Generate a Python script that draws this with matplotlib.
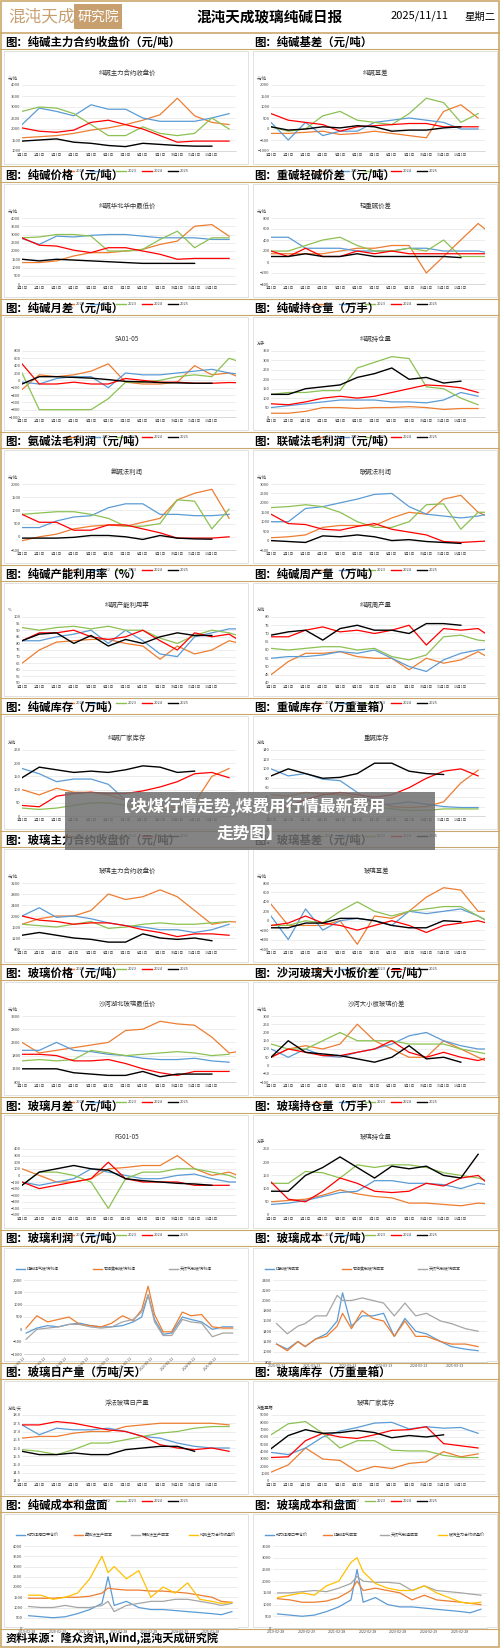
import matplotlib
matplotlib.use("Agg")
import matplotlib.pyplot as plt
from matplotlib.patches import Rectangle

plt.rcParams['font.family'] = ['Noto Sans CJK SC', 'DejaVu Sans']
W, H = 500, 1648
YEARS = ['2021', '2022', '2023', '2024', '2025']
YCOL = ['#ED7D31', '#5B9BD5', '#8CC152', '#FF0000', '#000000']
MONTHS = ['1月1日', '2月1日', '3月1日', '4月1日', '5月1日', '6月1日', '7月1日', '8月1日', '9月1日', '10月1日', '11月1日', '12月1日']

# ---- seasonal data (monthly readings, Jan..Dec) ----
sa_fut_2021 = [1600, 1650, 1700, 1800, 1950, 2050, 2200, 2400, 2650, 3400, 2600, 2300, 2200]
sa_fut_2022 = [2200, 2950, 2800, 2600, 3100, 2900, 2900, 2500, 2350, 2350, 2350, 2500, 2700]
sa_fut_2023 = [2800, 3000, 2950, 2700, 2200, 1700, 1700, 2100, 1800, 1700, 1800, 2500, 2000]
sa_fut_2024 = [2050, 1900, 1850, 1950, 2300, 2400, 2200, 2000, 1700, 1400, 1450, 1450, 1450]
sa_fut_2025 = [1450, 1500, 1550, 1400, 1350, 1250, 1200, 1350, 1300, 1250, 1220, 1220]

sa_basis_2021 = [-200, -200, -150, -100, -250, -200, -100, -200, -300, -400, 800, 1100, 500]
sa_basis_2022 = [300, -500, 300, -300, -100, -100, 300, 400, 500, 400, 300, 0, 0]
sa_basis_2023 = [100, -100, 0, 600, 800, 400, 300, 200, 700, 1400, 1200, 300, 700]
sa_basis_2024 = [700, 400, 300, 200, -100, 100, 150, 200, 250, 250, 100, 100, 100]
sa_basis_2025 = [100, -50, 0, 100, 50, 150, 100, -100, -50, -50, 50, 100]

sa_spot_2021 = [1300, 1300, 1400, 1700, 1900, 1900, 2000, 2100, 2400, 2600, 3500, 3600, 2900]
sa_spot_2022 = [2750, 2400, 2900, 2850, 2950, 3000, 3000, 2900, 2800, 2800, 2800, 2700, 2700]
sa_spot_2023 = [2800, 2850, 3000, 3000, 2900, 2000, 2000, 2100, 2700, 3200, 2200, 2800, 2800]
sa_spot_2024 = [2800, 2350, 2300, 2050, 1900, 2200, 2200, 2000, 1800, 1500, 1550, 1550, 1550]
sa_spot_2025 = [1500, 1400, 1500, 1450, 1400, 1350, 1300, 1250, 1250, 1250, 1250]

sa_lh_2021 = [150, 150, 150, 150, 200, 250, 250, 300, 300, -200, 100, 400, 700, 450]
sa_lh_2022 = [450, 450, 250, 250, 250, 200, 200, 200, 250, 250, 200, 200, 200, 150]
sa_lh_2023 = [200, 200, 300, 400, 450, 300, 200, 200, 250, 200, 400, 100, 100, 100]
sa_lh_2024 = [200, 100, 250, 100, 100, 200, 150, 200, 150, 150, 150, 150, 150, 150]
sa_lh_2025 = [100, 100, 150, 100, 100, 150, 100, 100, 100, 100, 100, 80]

sa_spr_2021 = [-250, 150, 100, 150, 250, 450, -50, -100, -100, -50, 400, 150, 200, 0]
sa_spr_2022 = [-50, -100, 50, 100, 100, -200, 200, 150, 150, 200, 250, 300, 200, 150]
sa_spr_2023 = [200, -800, -800, -800, -800, -500, -50, -50, 0, 100, 150, 100, 600, 450]
sa_spr_2024 = [450, -100, -100, -50, -100, -100, 50, 0, -50, -50, -80, -80, -60, -70]
sa_spr_2025 = [-100, 100, 100, 80, 60, 20, -30, -40, -60, -70, -80, -80]

sa_oi_2021 = [20, 20, 30, 50, 50, 45, 50, 50, 55, 50, 40, 45, 45]
sa_oi_2022 = [50, 60, 70, 80, 90, 90, 90, 80, 80, 75, 90, 130, 110]
sa_oi_2023 = [120, 130, 130, 140, 140, 260, 290, 320, 310, 160, 150, 100, 65]
sa_oi_2024 = [70, 65, 80, 100, 110, 100, 110, 130, 150, 170, 165, 155, 130]
sa_oi_2025 = [120, 120, 150, 160, 170, 210, 230, 260, 200, 210, 180, 190]

amm_pf_2021 = [-150, 0, 100, 300, 400, 450, 400, 550, 700, 1400, 1650, 1800, 700]
amm_pf_2022 = [350, 350, 600, 750, 800, 1100, 1250, 1250, 850, 850, 800, 800, 850]
amm_pf_2023 = [850, 900, 950, 950, 850, 700, 400, 400, 500, 1400, 1350, 300, 1050]
amm_pf_2024 = [850, 550, 550, 250, 250, 450, 450, 300, 150, -50, -50, -50, 0]
amm_pf_2025 = [-50, -50, -50, -20, 50, 50, 0, -100, 50, -50, -80, -90]

jnt_pf_2021 = [150, 200, 300, 700, 800, 800, 800, 1200, 1500, 1400, 2200, 2400, 1500, 1100]
jnt_pf_2022 = [1000, 1000, 1700, 1800, 2000, 2200, 2450, 2500, 1800, 1400, 1300, 1200, 1300, 1500]
jnt_pf_2023 = [1750, 1800, 1900, 1800, 1500, 1000, 700, 700, 1000, 1900, 1950, 600, 1500, 1500]
jnt_pf_2024 = [1400, 900, 850, 600, 550, 750, 900, 600, 450, 300, -50, -100, -50, 0]
jnt_pf_2025 = [0, -50, -100, 250, 200, 300, 200, 0, 50, -50, -100, -150]

sa_util_2021 = [65, 75, 81, 82, 83, 83, 80, 78, 68, 78, 72, 75, 82, 79]
sa_util_2022 = [82, 82, 85, 87, 90, 80, 90, 82, 72, 70, 85, 88, 91, 91]
sa_util_2023 = [92, 90, 92, 93, 91, 93, 90, 90, 84, 80, 86, 90, 88, 84]
sa_util_2024 = [82, 88, 88, 90, 85, 83, 85, 90, 82, 75, 88, 85, 87, 79]
sa_util_2025 = [82, 87, 88, 80, 86, 78, 83, 80, 85, 88, 86, 86]

sa_out_2021 = [45, 53, 58, 58, 59, 56, 55, 55, 48, 55, 52, 54, 59, 53]
sa_out_2022 = [55, 56, 56, 57, 59, 58, 60, 55, 50, 47, 54, 58, 60, 61]
sa_out_2023 = [61, 60, 61, 62, 62, 60, 61, 56, 54, 57, 68, 69, 66, 65]
sa_out_2024 = [68, 68, 72, 74, 71, 72, 70, 72, 75, 63, 73, 72, 73, 66]
sa_out_2025 = [69, 71, 72, 66, 73, 75, 72, 72, 70, 76, 76, 75]

sa_inv_2021 = [100, 80, 105, 90, 90, 80, 60, 45, 40, 30, 50, 150, 180]
sa_inv_2022 = [180, 160, 130, 140, 140, 120, 60, 40, 55, 45, 35, 30, 30]
sa_inv_2023 = [30, 25, 30, 40, 50, 50, 40, 25, 20, 25, 50, 30, 30]
sa_inv_2024 = [40, 35, 75, 85, 90, 85, 85, 95, 110, 130, 160, 165, 145]
sa_inv_2025 = [145, 185, 175, 165, 170, 165, 175, 190, 185, 165, 170]

hv_inv_2021 = [45, 42, 50, 47, 45, 40, 30, 20, 18, 20, 30, 70, 97]
hv_inv_2022 = [100, 85, 90, 78, 75, 50, 25, 25, 30, 25, 20, 18, 18]
hv_inv_2023 = [15, 15, 15, 20, 28, 28, 20, 15, 12, 12, 15, 15, 15]
hv_inv_2024 = [15, 20, 35, 45, 50, 45, 40, 45, 60, 80, 95, 100, 85]
hv_inv_2025 = [85, 100, 90, 80, 82, 90, 112, 112, 95, 90, 88]

fg_fut_2021 = [1700, 1900, 2000, 2000, 2200, 2800, 2600, 2700, 2950, 2700, 2200, 1700, 1800, 1750]
fg_fut_2022 = [2000, 2300, 1950, 2000, 1900, 1750, 1650, 1600, 1500, 1500, 1400, 1500, 1700]
fg_fut_2023 = [1700, 1650, 1600, 1700, 1800, 1550, 1600, 1700, 1750, 1700, 1700, 1750, 1800]
fg_fut_2024 = [2000, 1850, 1800, 1700, 1750, 1750, 1650, 1500, 1400, 1250, 1350, 1350, 1300]
fg_fut_2025 = [1300, 1400, 1300, 1200, 1150, 1050, 1050, 1350, 1200, 1150, 1200, 1100]

fg_basis_2021 = [350, -100, -100, -100, 0, -500, 100, 50, 200, 500, 700, 650, 200, 200]
fg_basis_2022 = [100, -400, 250, -200, 0, 50, 0, -100, 200, 150, 200, 250, 100, -100]
fg_basis_2023 = [-100, -100, 0, -50, 200, 400, 200, 100, 200, 250, 300, 300, 100, -100]
fg_basis_2024 = [-100, -50, 100, -50, -100, -200, -100, 0, -100, -250, -100, -50, 0, -100]
fg_basis_2025 = [-150, -150, -50, -50, 50, 50, 0, -100, -150, -150, 0, -20]

fg_spot_2021 = [2300, 1900, 2000, 2100, 2200, 2300, 2750, 2800, 3100, 3000, 2950, 2500, 1900, 2000]
fg_spot_2022 = [2000, 2000, 2300, 2000, 1950, 1850, 1800, 1700, 1650, 1650, 1700, 1600, 1550]
fg_spot_2023 = [1600, 1650, 1600, 1650, 2000, 1900, 1800, 1850, 1900, 1950, 1900, 1800, 1850]
fg_spot_2024 = [1850, 1850, 1800, 1600, 1600, 1650, 1500, 1300, 1150, 1050, 1200, 1200, 1200]
fg_spot_2025 = [1300, 1300, 1300, 1150, 1100, 1050, 1050, 1200, 1000, 1100, 1100, 1100]

fg_size_2021 = [50, 100, 120, 100, 130, 250, 150, 100, 50, 50, 150, 100, 50, 0]
fg_size_2022 = [100, 50, 100, 60, 50, 80, 100, 130, 180, 200, 150, 120, 100, 100]
fg_size_2023 = [130, 100, 100, 150, 200, 150, 150, 150, 130, 130, 130, 100, 80, 60]
fg_size_2024 = [50, 100, 80, 60, 60, 80, 100, 150, 80, 50, 80, 50, 30, 60]
fg_size_2025 = [50, 150, 80, 70, 60, 40, 20, 50, 120, 40, 50, 20]

fg_spr_2021 = [100, 0, -100, -100, -50, 100, 120, 150, 150, 300, 100, 0, 50, -50]
fg_spr_2022 = [-100, -150, -100, -50, 100, 50, 0, -50, -50, 0, 20, -50, -100, -100]
fg_spr_2023 = [-150, 50, 50, 0, -100, -500, -50, 50, 50, 100, 100, 50, 0, -100]
fg_spr_2024 = [-100, -200, -150, -100, -50, 200, -50, -100, -100, -100, -150, -150, -150]
fg_spr_2025 = [-150, 50, 100, 150, 100, 80, -50, -80, -100, -120, -130, -150]

fg_oi_2021 = [50, 55, 60, 75, 95, 80, 70, 65, 45, 45, 40, 35, 45, 40]
fg_oi_2022 = [40, 45, 55, 70, 85, 90, 130, 130, 120, 120, 115, 100, 120, 110]
fg_oi_2023 = [120, 120, 165, 160, 140, 190, 180, 190, 190, 180, 160, 150, 140, 120]
fg_oi_2024 = [125, 60, 50, 90, 140, 120, 90, 85, 90, 120, 110, 140, 150, 95]
fg_oi_2025 = [90, 90, 150, 180, 220, 180, 140, 185, 175, 185, 150, 140, 230]

fg_out_2021 = [16.6, 16.7, 16.7, 16.9, 17.0, 17.0, 17.3, 17.4, 17.5, 17.5, 17.5, 17.5, 17.4]
fg_out_2022 = [17.4, 16.8, 17.2, 17.1, 17.1, 17.2, 17.0, 16.7, 16.6, 16.3, 16.1, 16.0, 16.0]
fg_out_2023 = [15.9, 15.8, 15.6, 15.9, 16.3, 16.3, 16.5, 16.7, 16.9, 17.0, 17.2, 17.3, 17.3]
fg_out_2024 = [17.4, 17.4, 17.6, 17.5, 17.3, 17.1, 17.0, 16.7, 16.2, 16.0, 15.9, 16.0, 15.8]
fg_out_2025 = [15.8, 15.6, 15.6, 15.7, 15.6, 15.6, 15.9, 16.0, 16.1, 16.1, 15.8]

fg_inv_2021 = [1200, 2200, 4500, 3000, 2800, 1300, 2000, 1700, 2400, 2600, 4000, 3300, 3700]
fg_inv_2022 = [3900, 3600, 4500, 6000, 6800, 7300, 7900, 8000, 7100, 7400, 7200, 7300, 6500]
fg_inv_2023 = [6300, 7800, 8100, 6500, 4500, 5500, 5500, 4200, 4100, 4100, 3500, 3200, 3200]
fg_inv_2024 = [3200, 3300, 5500, 6500, 6000, 5800, 6300, 6900, 7000, 7400, 5100, 4800, 4500]
fg_inv_2025 = [4400, 6200, 7000, 6500, 6600, 6900, 6600, 5900, 6200, 6000, 6300]

# ---- time-series data ----
prof_years = [2016.2, 2016.7, 2017.2, 2017.7, 2018.2, 2018.7, 2019.2, 2019.7, 2020.2, 2020.7, 2021.2,
              2021.6, 2021.9, 2022.2, 2022.6, 2023.0, 2023.5, 2023.9, 2024.4, 2024.9, 2025.4, 2025.85]
prof_coal = [-150, 50, 150, 100, 200, 250, 150, 100, 100, 150, 300, 500, 1400, 400, -200, -150, 500, 400, 300, 0, 100, 100]
prof_coke = [50, 550, 300, 400, 500, 200, 150, 100, 250, 550, 350, 800, 1750, 600, -100, -100, 700, 550, 600, 100, 50, 50]
prof_gas = [-400, 0, 50, 100, 200, 200, 100, 50, 100, 300, 400, 700, 1400, 300, -250, -250, 400, 300, 250, -300, -150, -150]

cost_years = [2020.2, 2020.5, 2020.8, 2021.0, 2021.3, 2021.6, 2021.9, 2022.05, 2022.3, 2022.6, 2022.9,
              2023.2, 2023.5, 2023.8, 2024.1, 2024.4, 2024.8, 2025.1, 2025.5, 2025.85]
cost_coal = [1150, 1050, 1200, 1100, 1250, 1350, 1600, 2150, 1500, 1700, 1700, 1750, 1300, 1650, 1400, 1350, 1200, 1100, 1050, 1020]
cost_coke = [1150, 1020, 1200, 1100, 1250, 1300, 1500, 1750, 1450, 1800, 1650, 1600, 1300, 1600, 1300, 1300, 1200, 1150, 1150, 1100]
cost_gas = [1550, 1350, 1500, 1550, 1700, 1700, 2100, 2000, 2000, 2050, 2000, 1950, 1700, 1950, 1700, 1750, 1600, 1550, 1450, 1400]

long_years = [2019.2, 2019.6, 2020.0, 2020.4, 2020.8, 2021.2, 2021.6, 2021.8, 2022.0, 2022.4, 2022.8,
              2023.2, 2023.6, 2024.0, 2024.4, 2024.8, 2025.2, 2025.5, 2025.85]
thermal_coal = [600, 550, 500, 550, 700, 900, 1200, 2500, 1100, 1300, 1000, 900, 900, 850, 800, 750, 700, 650, 800]
sa_cost_amm = [1450, 1450, 1450, 1500, 1500, 1550, 1700, 1950, 1900, 1850, 1850, 1800, 1800, 1750, 1700, 1600, 1500, 1300, 1250]
sa_cost_jnt = [1050, 1000, 1000, 1100, 1000, 1000, 1100, 1300, 800, 1100, 1200, 1300, 1300, 1400, 1400, 1300, 1200, 1100, 1200]
sa_main = [1600, 1600, 1400, 1500, 1700, 2400, 3500, 2700, 3000, 2400, 2800, 1500, 2000, 1700, 2200, 1400, 1300, 1200, 1250]
fg_cost_coalgas = [1250, 1200, 1100, 1100, 1150, 1300, 1600, 2000, 1600, 1700, 1600, 1500, 1200, 1400, 1200, 1150, 1100, 1050, 1000]
fg_cost_gas = [1500, 1500, 1550, 1600, 1550, 1700, 1900, 2200, 2000, 1950, 1950, 1900, 1600, 1800, 1600, 1550, 1500, 1450, 1400]
fg_main = [1300, 1400, 1500, 1400, 1800, 2000, 2800, 3000, 2400, 1900, 1700, 1600, 1600, 1800, 1500, 1300, 1100, 1050, 1100]

bar_titles = ['图：纯碱主力合约收盘价（元/吨）', '图：纯碱基差（元/吨）',
              '图：纯碱价格（元/吨）', '图：重碱轻碱价差（元/吨）',
              '图：纯碱月差（元/吨）', '图：纯碱持仓量（万手）',
              '图：氨碱法毛利润（元/吨）', '图：联碱法毛利润（元/吨）',
              '图：纯碱产能利用率（%）', '图：纯碱周产量（万吨）',
              '图：纯碱库存（万吨）', '图：重碱库存（万重量箱）',
              '图：玻璃主力合约收盘价（元/吨）', '图：玻璃基差（元/吨）',
              '图：玻璃价格（元/吨）', '图：沙河玻璃大小板价差（元/吨）',
              '图：玻璃月差（元/吨）', '图：玻璃持仓量（万手）',
              '图：玻璃利润（元/吨）', '图：玻璃成本（元/吨）',
              '图：玻璃日产量（万吨/天）', '图：玻璃库存（万重量箱）',
              '图：纯碱成本和盘面', '图：玻璃成本和盘面']

seasonal = [
    ('纯碱主力合约收盘价', '元/吨', [sa_fut_2021, sa_fut_2022, sa_fut_2023, sa_fut_2024, sa_fut_2025], 1000, 4000, 500),
    ('纯碱基差', '元/吨', [sa_basis_2021, sa_basis_2022, sa_basis_2023, sa_basis_2024, sa_basis_2025], -1000, 2000, 500),
    ('纯碱华北华中最低价', '元/吨', [sa_spot_2021, sa_spot_2022, sa_spot_2023, sa_spot_2024, sa_spot_2025], 0, 4000, 500),
    ('轻重碱价差', '元/吨', [sa_lh_2021, sa_lh_2022, sa_lh_2023, sa_lh_2024, sa_lh_2025], -400, 800, 200),
    ('SA01-05', '', [sa_spr_2021, sa_spr_2022, sa_spr_2023, sa_spr_2024, sa_spr_2025], -1000, 800, 200),
    ('纯碱持仓量', '万手', [sa_oi_2021, sa_oi_2022, sa_oi_2023, sa_oi_2024, sa_oi_2025], 0, 350, 50),
    ('氨碱法利润', '元/吨', [amm_pf_2021, amm_pf_2022, amm_pf_2023, amm_pf_2024, amm_pf_2025], -500, 2000, 500),
    ('联碱法利润', '元/吨', [jnt_pf_2021, jnt_pf_2022, jnt_pf_2023, jnt_pf_2024, jnt_pf_2025], -500, 3000, 500),
    ('纯碱产能利用率', '%', [sa_util_2021, sa_util_2022, sa_util_2023, sa_util_2024, sa_util_2025], 50, 100, 5),
    ('纯碱周产量', '万吨', [sa_out_2021, sa_out_2022, sa_out_2023, sa_out_2024, sa_out_2025], 40, 80, 5),
    ('纯碱厂家库存', '万吨', [sa_inv_2021, sa_inv_2022, sa_inv_2023, sa_inv_2024, sa_inv_2025], 0, 250, 50),
    ('重碱库存', '万吨', [hv_inv_2021, hv_inv_2022, hv_inv_2023, hv_inv_2024, hv_inv_2025], 0, 140, 20),
    ('玻璃主力合约收盘价', '元/吨', [fg_fut_2021, fg_fut_2022, fg_fut_2023, fg_fut_2024, fg_fut_2025], 800, 3200, 400),
    ('玻璃基差', '元/吨', [fg_basis_2021, fg_basis_2022, fg_basis_2023, fg_basis_2024, fg_basis_2025], -600, 800, 200),
    ('沙河湖北玻璃最低价', '元/吨', [fg_spot_2021, fg_spot_2022, fg_spot_2023, fg_spot_2024, fg_spot_2025], 800, 3300, 500),
    ('沙河大小板玻璃价差', '元/吨', [fg_size_2021, fg_size_2022, fg_size_2023, fg_size_2024, fg_size_2025], -100, 300, 50),
    ('FG01-05', '', [fg_spr_2021, fg_spr_2022, fg_spr_2023, fg_spr_2024, fg_spr_2025], -600, 400, 100),
    ('玻璃持仓量', '万手', [fg_oi_2021, fg_oi_2022, fg_oi_2023, fg_oi_2024, fg_oi_2025], 0, 250, 50),
]
seasonal2 = [
    ('浮法玻璃日产量', '万吨/天', [fg_out_2021, fg_out_2022, fg_out_2023, fg_out_2024, fg_out_2025], 14, 18, 0.5),
    ('玻璃厂家库存', '万重量箱', [fg_inv_2021, fg_inv_2022, fg_inv_2023, fg_inv_2024, fg_inv_2025], 0, 9000, 1000),
]

fig = plt.figure(figsize=(W / 100, H / 100), dpi=100)
fig.patch.set_facecolor('white')
bg = fig.add_axes([0, 0, 1, 1])
bg.set_xlim(0, W); bg.set_ylim(H, 0); bg.axis('off')
GOLD = '#C9A96B'


def ax_px(x, y, w, h):
    return fig.add_axes([x / W, 1 - (y + h) / H, w / W, h / H])


def small_style(ax, lo, hi, step):
    ax.set_ylim(lo, hi)
    ticks = []
    v = lo
    while v <= hi + 1e-9:
        ticks.append(round(v, 2))
        v += step
    ax.set_yticks(ticks)
    ax.tick_params(axis='y', labelsize=3.0, length=0, pad=1, colors='#444')
    ax.tick_params(axis='x', labelsize=2.6, length=0, pad=1.5, colors='#444')
    ax.grid(axis='y', color='#E0E0E0', lw=0.4)
    for s in ['top', 'right', 'left']:
        ax.spines[s].set_visible(False)
    ax.spines['bottom'].set_color('#BBB'); ax.spines['bottom'].set_linewidth(0.4)
    ax.set_axisbelow(True)


def seasonal_panel(px0, y0, cfg):
    title, unit, series, lo, hi, step = cfg
    ax = ax_px(px0 + 20, y0 + 36, 214, 66)
    for data, c, lab in zip(series, YCOL, YEARS):
        ax.plot(range(len(data)), data, color=c, lw=0.9 if lab != '2025' else 1.0, label=lab)
    ax.set_xlim(0, 12.4)
    ax.set_xticks(range(12)); ax.set_xticklabels(MONTHS)
    small_style(ax, lo, hi, step)
    bg.text(px0 + 125, y0 + 24, title, fontsize=4.6, ha='center', va='center', color='#333')
    bg.text(px0 + 6, y0 + 29, unit, fontsize=3.0, ha='left', va='center', color='#444')
    for i, (c, lab) in enumerate(zip(YCOL, YEARS)):
        lx = px0 + 62 + i * 26
        bg.plot([lx, lx + 10], [y0 + 122, y0 + 122], color=c, lw=1.0)
        bg.text(lx + 12, y0 + 122, lab, fontsize=2.8, va='center', color='#444')


def legend_top(px0, y0, names, cols):
    n = len(names)
    step = 230 / n
    for i, (nm, c) in enumerate(zip(names, cols)):
        lx = px0 + 14 + i * step
        bg.plot([lx, lx + 9], [y0 + 23, y0 + 23], color=c, lw=1.0)
        bg.text(lx + 11, y0 + 23, nm, fontsize=2.9, va='center', color='#333')


def ts_panel(px0, y0, names, cols, xs, ys, lo, hi, step, xt, xtl, rot=0):
    ax = ax_px(px0 + 22, y0 + 34, 214, 74 if rot else 82)
    for x, y, c in zip(xs, ys, cols):
        ax.plot(x, y, color=c, lw=0.9)
    small_style(ax, lo, hi, step)
    ax.set_xlim(xt[0] - 0.1, xt[-1] + 0.9)
    ax.set_xticks(xt); ax.set_xticklabels(xtl, rotation=rot, ha='right' if rot else 'center')
    legend_top(px0, y0, names, cols)


# outer frame & header
bg.add_patch(Rectangle((1, 1), W - 2, H - 2, fill=False, ec=GOLD, lw=1.2))
bg.text(8, 17, '混沌天成', fontsize=12, color='#C8A070', va='center', ha='left')
bg.add_patch(Rectangle((74, 4), 48, 25, fc='#C8A070', ec='none'))
bg.text(98, 17, '研究院', fontsize=10, color='white', va='center', ha='center')
bg.text(270, 17, '混沌天成玻璃纯碱日报', fontsize=10.5, fontweight='bold', va='center', ha='center')
bg.text(420, 16, '2025/11/11', fontsize=8, va='center', ha='center')
bg.text(480, 17, '星期二', fontsize=7.5, va='center', ha='center')
bg.plot([0, W], [33, 33], color=GOLD, lw=1.2)

ROW0, STEP = 35, 133
for r in range(12):
    y0 = ROW0 + r * STEP
    bg.plot([0, W], [y0 + 14, y0 + 14], color=GOLD, lw=0.8)
    bg.plot([0, W], [y0 + STEP - 2, y0 + STEP - 2], color=GOLD, lw=0.8)
    for c in range(2):
        px0 = 2 + c * 249
        bg.text(px0 + 3, y0 + 7, bar_titles[2 * r + c], fontsize=8.2, fontweight='bold', va='center', ha='left')
        bg.add_patch(Rectangle((px0 + 2, y0 + 16), 244, STEP - 20, fill=False, ec='#DDDDDD', lw=0.6))

for i, cfg in enumerate(seasonal):
    r, c = divmod(i, 2)
    seasonal_panel(2 + c * 249, ROW0 + r * STEP + 14, cfg)
for i, cfg in enumerate(seasonal2):
    seasonal_panel(2 + i * 249, ROW0 + 10 * STEP + 14, cfg)

# row 9: glass profit / glass cost
y9 = ROW0 + 9 * STEP + 14
ts_panel(2, y9, ['煤制煤气玻璃利润', '石油焦制玻璃利润', '天然气制玻璃利润'], ['#5B9BD5', '#ED7D31', '#A5A5A5'],
         [prof_years] * 3, [prof_coal, prof_coke, prof_gas], -1000, 2000, 500,
         [2016.2, 2017.2, 2018.2, 2019.2, 2020.2, 2021.2, 2022.2, 2023.2, 2024.2, 2025.2],
         ['2016-03-11', '2017-03-11', '2018-03-11', '2019-03-11', '2020-03-11', '2021-03-11', '2022-03-11', '2023-03-11', '2024-03-11', '2025-03-11'], rot=45)
ts_panel(251, y9, ['煤制玻璃成本', '石油焦制玻璃成本', '天然气制玻璃成本'], ['#5B9BD5', '#ED7D31', '#A5A5A5'],
         [cost_years] * 3, [cost_coal, cost_coke, cost_gas], 800, 2400, 200,
         [2020.2, 2021.2, 2022.2, 2023.2, 2024.2, 2025.2],
         ['2020-03-13', '2021-03-13', '2022-03-13', '2023-03-13', '2024-03-13', '2025-03-13'])

# row 11: cost vs futures
y11 = ROW0 + 11 * STEP + 14
lt = [2019.15, 2020.15, 2021.15, 2022.15, 2023.15, 2024.15, 2025.15]
ts_panel(2, y11, ['动力煤港口平仓价', '氨碱法生产成本', '联碱法生产成本', '纯碱主力合约收盘价'],
         ['#5B9BD5', '#ED7D31', '#A5A5A5', '#FFC000'], [long_years] * 4,
         [thermal_coal, sa_cost_amm, sa_cost_jnt, sa_main], 0, 4000, 500, lt,
         ['2019-02-28', '2020-02-29', '2021-02-28', '2022-02-28', '2023-02-28', '2024-02-29', '2025-02-28'])
ts_panel(251, y11, ['动力煤港口平仓价', '煤制煤气成本', '天然气制造成本', '玻璃主力合约收盘价'],
         ['#5B9BD5', '#ED7D31', '#A5A5A5', '#FFC000'], [long_years] * 4,
         [thermal_coal, fg_cost_coalgas, fg_cost_gas, fg_main], 0, 3500, 500, lt,
         ['2019-02-28', '2020-02-29', '2021-02-28', '2022-02-28', '2023-02-28', '2024-02-29', '2025-02-28'])

# footer
bg.text(6, 1638, '资料来源：隆众资讯,Wind,混沌天成研究院', fontsize=8, fontweight='bold', style='italic', va='center')

# overlay banner on top of everything
ov = fig.add_axes([0, 0, 1, 1], zorder=50)
ov.set_xlim(0, W); ov.set_ylim(H, 0); ov.axis('off'); ov.patch.set_alpha(0)
ov.add_patch(Rectangle((65, 792), 370, 58, fc='#6E6E6E', ec='none', alpha=0.85))
ov.text(250, 807, '【块煤行情走势,煤费用行情最新费用', fontsize=12, color='white', fontweight='bold', ha='center', va='center')
ov.text(250, 834, '走势图】', fontsize=12, color='white', fontweight='bold', ha='center', va='center')

fig.savefig('out.png', dpi=100)
